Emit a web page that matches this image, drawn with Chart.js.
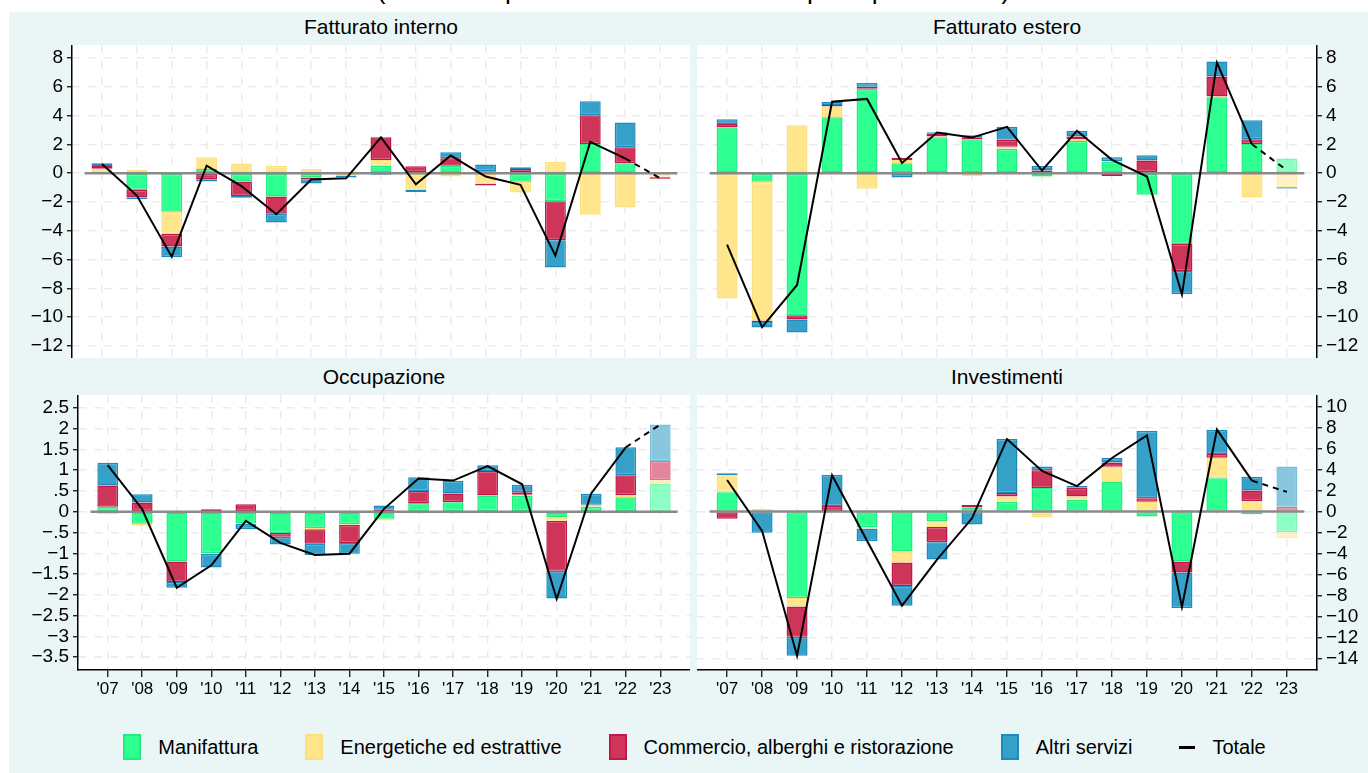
<!DOCTYPE html>
<html>
<head>
<meta charset="utf-8">
<script src="https://cdn.jsdelivr.net/npm/chart.js@4.4.1/dist/chart.umd.min.js"></script>
<style>
  body { margin: 0; background: #fff; font-family: "Liberation Sans", Arial, sans-serif; color: #000; }
  #page { position: relative; width: 1368px; height: 773px; overflow: hidden; }
  #panel { position: absolute; left: 9px; top: 12px; right: 0; bottom: 0; background: #eaf5f6; }
  canvas { position: absolute; }
  .title { position: absolute; font-size: 21px; line-height: 24px; text-align: center; white-space: nowrap; }
  #subtitle { position: absolute; left: 0; width: 1387px; top: -25px; font-size: 26.5px; line-height: 30px; text-align: center; white-space: nowrap; }
  #legend { position: absolute; left: 72px; width: 1245px; top: 734px; height: 26px; display: flex; justify-content: center; align-items: center; gap: 47px; font-size: 20px; }
  .item { display: flex; align-items: center; }
  .box { width: 14px; height: 22px; border: 2px solid; margin-right: 17px; }
  .dash { width: 16px; height: 3px; background: #000; margin-right: 17px; }
</style>
</head>
<body>
<div id="page">
  <div id="subtitle">(variazioni percentuali e contributi in punti percentuali)</div>
  <div id="panel"></div>
  <div class="title" style="left:72px;width:618px;top:15px;">Fatturato interno</div>
  <div class="title" style="left:697px;width:620px;top:15px;">Fatturato estero</div>
  <div class="title" style="left:78px;width:612px;top:365px;">Occupazione</div>
  <div class="title" style="left:697px;width:620px;top:365px;">Investimenti</div>
  <canvas id="fi" width="690" height="313" style="left:0;top:45px;"></canvas>
  <canvas id="fe" width="671" height="313" style="left:697px;top:45px;"></canvas>
  <canvas id="oc" width="690" height="310" style="left:0;top:395px;"></canvas>
  <canvas id="inv" width="671" height="310" style="left:697px;top:395px;"></canvas>
  <div id="legend"></div>
</div>
<script>
let years = [2007, 2008, 2009, 2010, 2011, 2012, 2013, 2014, 2015, 2016, 2017, 2018, 2019, 2020, 2021, 2022, 2023];
let seriesNames = ['Manifattura', 'Energetiche ed estrattive', 'Commercio, alberghi e ristorazione', 'Altri servizi'];
let totalName = 'Totale';

// Fatturato interno
let fiManifattura = [-0.05, -1.16, -2.67, 0.3, -0.58, -1.62, -0.3, 0.05, 0.51, 0.07, 0.53, 0.15, -0.6, -1.95, 2.04, 0.7, 0];
let fiEnergetiche = [0.32, 0.23, -1.55, 0.81, 0.67, 0.53, 0.3, -0.15, 0.42, -1.16, -0.23, -0.75, -0.74, 0.79, -2.88, -2.39, -0.25];
let fiCommercio = [0.18, -0.53, -0.88, -0.42, -1.0, -1.2, -0.12, 0.05, 1.58, 0.42, 0.51, -0.1, 0.3, -2.71, 2.0, 1.11, -0.15];
let fiAltri = [0.2, -0.12, -0.74, -0.16, -0.12, -0.6, -0.3, -0.15, -0.1, -0.14, 0.42, 0.45, 0.12, -1.9, 0.97, 1.72, 0.05];
let fiTotale = [0.65, -1.55, -5.8, 0.53, -0.9, -2.85, -0.44, -0.35, 2.5, -0.77, 1.23, -0.23, -0.81, -5.73, 2.18, 1.04, -0.35];

// Fatturato estero
let feManifattura = [3.2, -0.6, -9.88, 3.9, 5.87, 0.7, 2.5, 2.37, 1.7, -0.23, 2.25, 0.8, -1.5, -4.92, 5.29, 2.04, 1.02];
let feEnergetiche = [-8.72, -9.65, 3.34, 0.74, -1.07, 0.23, 0.05, -0.19, 0.14, -0.07, 0.12, 0.05, 0.08, 0, 0.05, -1.69, -0.95];
let feCommercio = [0.23, -0.1, -0.3, 0.1, 0.14, 0.14, 0.19, 0.14, 0.49, 0.19, 0.19, -0.2, 0.81, -1.88, 1.39, 0.32, 0];
let feAltri = [0.32, -0.37, -0.9, 0.23, 0.26, -0.3, 0.12, 0.14, 0.9, 0.32, 0.39, 0.27, 0.37, -1.62, 1.04, 1.32, -0.12];
let feTotale = [-4.97, -10.7, -7.77, 4.97, 5.17, 0.72, 2.83, 2.48, 3.23, 0.19, 2.95, 0.93, -0.23, -8.42, 7.7, 2.02, 0.2];

// Occupazione
let ocManifattura = [0.12, -0.29, -1.2, -1.0, -0.27, -0.51, -0.39, -0.3, -0.17, 0.21, 0.23, 0.39, 0.38, -0.14, 0.12, 0.35, 0.68];
let ocEnergetiche = [-0.06, -0.05, 0, -0.02, -0.02, 0, -0.03, -0.02, -0.04, -0.04, -0.04, 0, 0.03, -0.08, 0.03, 0.05, 0.08];
let ocCommercio = [0.51, 0.22, -0.49, 0.06, 0.18, -0.09, -0.35, -0.43, 0.05, 0.29, 0.21, 0.59, 0.06, -1.2, 0.02, 0.48, 0.46];
let ocAltri = [0.55, 0.2, -0.14, -0.32, -0.13, -0.19, -0.27, -0.26, 0.1, 0.33, 0.3, 0.14, 0.18, -0.67, 0.26, 0.67, 0.88];
let ocTotale = [1.12, 0.06, -1.83, -1.29, -0.22, -0.75, -1.04, -1.01, 0.07, 0.8, 0.75, 1.1, 0.66, -2.1, 0.44, 1.55, 2.1];

// Investimenti
let inManifattura = [1.84, 0, -8.23, 0.05, -1.48, -3.81, -0.9, 0.39, 0.94, 2.23, 1.13, 2.87, -0.48, -4.77, 3.16, -0.26, -1.97];
let inEnergetiche = [1.61, 0.23, -0.81, 0, -0.13, -1.06, -0.58, 0, 0.48, -0.58, 0.29, 1.39, 0.94, 0.16, 1.97, 0.97, -0.55];
let inCommercio = [-0.68, 0, -2.9, 0.48, 0.06, -2.23, -1.45, 0.23, 0.35, 1.71, 0.84, 0.42, 0.32, -1.03, 0.35, 1.03, 0.45];
let inAltri = [0.19, -2.03, -1.81, 2.94, -1.23, -1.87, -1.65, -1.23, 5.13, 0.35, 0.16, 0.42, 6.42, -3.39, 2.32, 1.32, 3.84];
let inTotale = [3.0, -1.84, -13.74, 3.45, -2.78, -8.97, -4.58, -0.65, 6.9, 3.87, 2.42, 5.1, 7.26, -9.1, 7.8, 2.94, 1.87];

// y tick labels
let fatturatoTicks = [-12, -10, -8, -6, -4, -2, 0, 2, 4, 6, 8];
let occupazioneTicks = [-3.5, -3, -2.5, -2, -1.5, -1, -0.5, 0, 0.5, 1, 1.5, 2, 2.5];
let investimentiTicks = [-14, -12, -10, -8, -6, -4, -2, 0, 2, 4, 6, 8, 10];

// fill, border, and the paler versions used for the last (forecast) year
let colors = [
    { fill: '#2eff91', border: '#20ec80', lightFill: '#8dffc5', lightBorder: '#7cf5b6' },
    { fill: '#ffe68c', border: '#fde07c', lightFill: '#fff1c4', lightBorder: '#ffeab0' },
    { fill: '#cf3559', border: '#c3164a', lightFill: '#e3869b', lightBorder: '#dc7490' },
    { fill: '#35a1c9', border: '#1b8cbf', lightFill: '#89c7de', lightBorder: '#7bbfda' }
];

let gridColor = '#ebebeb';
let lastIndex = years.length - 1;

Chart.defaults.font.family = '"Liberation Sans", Arial, sans-serif';
Chart.defaults.color = '#000';

function formatTick(v) {
    let a = Math.abs(v);
    let s = a < 1 && a > 0 ? String(a).replace('0.', '.') : String(a);
    return v < 0 ? '\u2212' + s : s;
}

// white plotting area
let plotBackground = {
    id: 'plotBackground',
    beforeDraw(chart) {
        let a = chart.chartArea;
        let ctx = chart.ctx;
        ctx.save();
        ctx.fillStyle = '#fff';
        ctx.fillRect(a.left, a.top, a.right - a.left, a.bottom - a.top);
        ctx.restore();
    }
};

// grey zero line, drawn between the bars and the total line
let zeroLine = {
    id: 'zeroLine',
    beforeDatasetDraw(chart, args) {
        if (args.meta.type !== 'line') return;
        let x = chart.scales.x, y = chart.scales.y, ctx = chart.ctx;
        let y0 = y.getPixelForValue(0);
        ctx.save();
        ctx.strokeStyle = '#8a8a8a';
        ctx.lineWidth = 2.5;
        ctx.beginPath();
        ctx.moveTo(x.getPixelForValue(years[0] - 0.5), y0);
        ctx.lineTo(x.getPixelForValue(years[lastIndex] + 0.5), y0);
        ctx.stroke();
        ctx.restore();
    }
};

function drawPanel(canvasId, side, showX, ticks, min, max, series, totale) {
    let datasets = [{
        type: 'line',
        label: totalName,
        data: totale,
        order: 0,
        borderColor: '#000',
        borderWidth: 2,
        pointRadius: 0,
        tension: 0,
        segment: {
            borderDash: ctx => ctx.p1DataIndex === lastIndex ? [6, 5] : undefined
        }
    }];

    series.forEach((values, i) => {
        let c = colors[i];
        datasets.push({
            type: 'bar',
            label: seriesNames[i],
            data: values,
            order: 1,
            backgroundColor: ctx => ctx.dataIndex === lastIndex ? c.lightFill : c.fill,
            borderColor: ctx => ctx.dataIndex === lastIndex ? c.lightBorder : c.border,
            borderWidth: 1.5,
            borderSkipped: false,
            barPercentage: 0.75,
            categoryPercentage: 0.8
        });
    });

    let el = document.getElementById(canvasId).getContext('2d');

    new Chart(el, {
        type: 'bar',
        data: { labels: years, datasets: datasets },
        plugins: [plotBackground, zeroLine],
        options: {
            responsive: false,
            animation: false,
            layout: { padding: 0 },
            plugins: { legend: { display: false }, tooltip: { enabled: false } },
            scales: {
                x: {
                    type: 'linear',
                    offset: false,
                    min: years[0] - 0.86,
                    max: years[lastIndex] + 0.86,
                    stacked: true,
                    afterBuildTicks: s => { s.ticks = years.map(v => ({ value: v })); },
                    afterFit: s => {
                        s.height = showX ? 35 : 0;
                        s.paddingLeft = 0;
                        s.paddingRight = 0;
                    },
                    grid: { offset: false, color: gridColor, lineWidth: 1.5, drawTicks: showX, tickLength: 7, tickColor: '#000', tickWidth: 1.2 },
                    border: { display: showX, color: '#000', width: 1.5, dash: [8, 8] },
                    ticks: {
                        display: showX, padding: 2, autoSkip: false, maxRotation: 0,
                        font: { size: 17 },
                        callback: v => "'" + String(v).slice(2)
                    }
                },
                y: {
                    position: side,
                    min: min,
                    max: max,
                    stacked: true,
                    afterBuildTicks: s => { s.ticks = ticks.map(v => ({ value: v })); },
                    afterFit: s => {
                        s.width = side === 'left' ? (showX ? 78 : 72) : 51;
                        s.paddingTop = 0;
                        s.paddingBottom = 0;
                    },
                    grid: { color: gridColor, lineWidth: 1.5, tickLength: 5, tickColor: '#000', tickWidth: 1.2 },
                    border: { color: '#000', width: 1.5, dash: [8, 8] },
                    ticks: { padding: 4, autoSkip: false, font: { size: 19 }, callback: formatTick }
                }
            }
        }
    });
}

drawPanel('fi', 'left', false, fatturatoTicks, -12.85, 8.92,
    [fiManifattura, fiEnergetiche, fiCommercio, fiAltri], fiTotale);
drawPanel('fe', 'right', false, fatturatoTicks, -12.85, 8.92,
    [feManifattura, feEnergetiche, feCommercio, feAltri], feTotale);
drawPanel('oc', 'left', true, occupazioneTicks, -3.81, 2.81,
    [ocManifattura, ocEnergetiche, ocCommercio, ocAltri], ocTotale);
drawPanel('inv', 'right', true, investimentiTicks, -15.1, 11.1,
    [inManifattura, inEnergetiche, inCommercio, inAltri], inTotale);

// legend
let legend = document.getElementById('legend');
seriesNames.forEach((name, i) => {
    let item = document.createElement('div');
    item.className = 'item';
    item.innerHTML = '<div class="box" style="background:' + colors[i].fill + ';border-color:' + colors[i].border + '"></div>' + name;
    legend.appendChild(item);
});
let tot = document.createElement('div');
tot.className = 'item';
tot.innerHTML = '<div class="dash"></div>' + totalName;
legend.appendChild(tot);
</script>
</body>
</html>
